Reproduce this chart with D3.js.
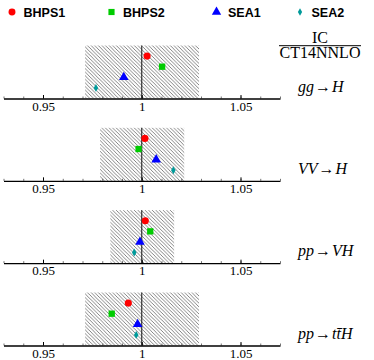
<!DOCTYPE html>
<html>
<head>
<meta charset="utf-8">
<script src="https://cdn.jsdelivr.net/npm/d3@7"></script>
<style>
body { margin: 0; background: #fff; }
svg { display: block; }
</style>
</head>
<body>
<svg id="chart" width="374" height="360"></svg>
<script>
// series + processes
var series = ['BHPS1', 'BHPS2', 'SEA1', 'SEA2'];
var seriesColors = ['#ff0000', '#00cc00', '#0000ff', '#009a9a'];
var seriesShapes = ['circle', 'square', 'triangle', 'diamond'];
var seriesRank = [4, 3, 2, 1];

var procLabels = [
    [['gg', 1], ['\u2192', 0], ['H', 1]],
    [['VV', 1], ['\u2192', 0], ['H', 1]],
    [['pp', 1], ['\u2192', 0], ['VH', 1]],
    [['pp', 1], ['\u2192', 0], ['t\u0074\u0304H', 1]]
];

// ratio IC / CT14NNLO per process
var bhps1 = [1.0027, 1.0016, 1.0018, 0.9932];
var bhps2 = [1.0103, 0.9984, 1.0043, 0.9848];
var sea1  = [0.9909, 1.0073, 0.9991, 0.9979];
var sea2  = [0.9768, 1.0160, 0.9962, 0.9972];
var values = [bhps1, bhps2, sea1, sea2];

// PDF uncertainty band
var bandLo = [0.9713, 0.9789, 0.9841, 0.9713];
var bandHi = [1.0290, 1.0215, 1.0164, 1.0290];

var majorTicks = [0.95, 1, 1.05];
var minorTicks = d3.range(93, 108).map(function(d) { return d / 100; });

var svg = d3.select('#chart');

var x = d3.scaleLinear().domain([0.93, 1.07]).range([3.5, 280]);
var panelY = d3.scaleLinear().domain([0, 3]).range([98.5, 345.5]);
var y = d3.scaleLinear().domain([0, 5]).range([0, -53]);

var defs = svg.append('defs');
defs.append('pattern')
    .attr('id', 'hatch')
    .attr('patternUnits', 'userSpaceOnUse')
    .attr('width', 3.6).attr('height', 3.6)
    .append('path')
    .attr('d', 'M0,0L3.6,3.6M-1,2.6L1,4.6M2.6,-1L4.6,1')
    .attr('stroke', '#666')
    .attr('stroke-width', 0.8);

function symbolFor(shape, size) {
    var t = shape == 'circle' ? d3.symbolCircle : shape == 'square' ? d3.symbolSquare
          : shape == 'triangle' ? d3.symbolTriangle : d3.symbolDiamond;
    return d3.symbol().type(t).size(size)();
}

procLabels.forEach(function(lab, i) {
    var g = svg.append('g').attr('transform', 'translate(0,' + panelY(i) + ')');

    g.append('rect')
        .attr('x', x(bandLo[i]))
        .attr('width', x(bandHi[i]) - x(bandLo[i]))
        .attr('y', y(5))
        .attr('height', y(0) - y(5))
        .attr('fill', 'url(#hatch)');

    g.append('line')
        .attr('x1', x(1)).attr('x2', x(1))
        .attr('y1', y(5)).attr('y2', y(0))
        .attr('stroke', '#222').attr('stroke-width', 1.1);

    var minor = g.append('g').call(d3.axisBottom(x).tickValues(minorTicks).tickSize(-2).tickFormat(''));
    minor.select('.domain').remove();
    minor.selectAll('line').attr('stroke', '#333').attr('stroke-width', 0.7);

    var ax = g.append('g').call(d3.axisBottom(x).tickValues(majorTicks).tickSizeInner(-3.5).tickSizeOuter(0).tickPadding(3)
        .tickFormat(function(d) { return d == 1 ? '1' : d3.format('.2f')(d); }));
    ax.select('.domain').attr('stroke', '#000').attr('stroke-width', 1.4);
    ax.selectAll('text').attr('font-family', 'Liberation Serif, serif').attr('font-size', 13).attr('fill', '#000');

    values.forEach(function(vals, s) {
        g.append('path')
            .attr('d', symbolFor(seriesShapes[s], s == 3 ? 18 : 40))
            .attr('transform', 'translate(' + x(vals[i]) + ',' + y(seriesRank[s]) + ')')
            .attr('fill', seriesColors[s]);
    });

    var t = g.append('text')
        .attr('x', 298).attr('y', -7)
        .attr('font-family', 'Liberation Serif, serif')
        .attr('font-size', 16);
    lab.forEach(function(p, k) {
        t.append('tspan').text(p[0]).attr('dx', k ? 1 : 0).attr('font-style', p[1] ? 'italic' : 'normal');
    });
});

// ratio title
var tg = svg.append('g').attr('font-family', 'Liberation Serif, serif').attr('font-size', 16).attr('text-anchor', 'middle');
tg.append('text').attr('x', 320).attr('y', 42.5).text('IC');
tg.append('line').attr('x1', 279).attr('x2', 361).attr('y1', 45.7).attr('y2', 45.7).attr('stroke', '#000').attr('stroke-width', 1);
tg.append('text').attr('x', 320).attr('y', 58).text('CT14NNLO');

// legend
var legX = [12, 111.5, 216.5, 300];
var leg = svg.append('g');
series.forEach(function(name, s) {
    leg.append('path')
        .attr('d', symbolFor(seriesShapes[s], s == 3 ? 16 : 38))
        .attr('transform', 'translate(' + legX[s] + ',12)')
        .attr('fill', seriesColors[s]);
    leg.append('text')
        .attr('x', legX[s] + 11.5).attr('y', 16.5)
        .attr('font-family', 'Liberation Sans, Arial, sans-serif')
        .attr('font-weight', 'bold')
        .attr('font-size', 12.5)
        .text(name);
});
</script>
</body>
</html>
